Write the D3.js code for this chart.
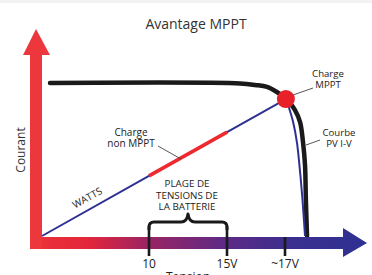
<!DOCTYPE html>
<html><head><meta charset="utf-8">
<script src="https://cdn.jsdelivr.net/npm/d3@7"></script>
<style>
html,body{margin:0;padding:0;background:#fff;}
svg{display:block;font-family:"Open Sans",sans-serif;}
</style></head>
<body>
<svg id="c" width="372" height="275"></svg>
<script>
// ---- data (volts / current units) ----
const tickValues = [10, 15, 17];
const tickLabels = ["10", "15V", "~17V"];
const batteryRange = [10, 15];
// PV I-V curve
const ivV = [0.75, 15.45, 15.97, 16.38, 16.72, 17.0, 17.17, 17.34, 17.52, 17.62, 17.69, 17.72, 17.76];
const ivI = [10.0, 9.97, 9.87, 9.74, 9.41, 9.02, 8.69, 8.24, 7.45, 6.14, 4.64, 2.35, 0];
// power ("WATTS") line up to MPP, then falling part
const pwV = [0, 10, 15, 17.03];
const pwI = [0, 3.93, 6.79, 8.95];
const fallV = [17.03, 17.14, 17.28, 17.41, 17.48, 17.59, 17.69];
const fallI = [8.95, 8.37, 7.45, 6.14, 4.97, 2.68, 0];
const mpp = [17.03, 8.95];

const svg = d3.select("#c");
const x = d3.scaleLinear().domain([0, 10, 15, 19]).range([42, 149, 227, 343]);
const y = d3.scaleLinear().domain([0, 10]).range([236, 83]);

// top band
svg.append("rect").attr("x",0).attr("y",0).attr("width",372).attr("height",3).attr("fill","#f2f2f2");

// title
svg.append("text").attr("x",196).attr("y",29).attr("text-anchor","middle")
  .attr("font-size",14).attr("fill","#333").text("Avantage MPPT");

// gradient
const defs = svg.append("defs");
const g = defs.append("linearGradient").attr("id","hg").attr("gradientUnits","userSpaceOnUse")
  .attr("x1",30).attr("x2",367).attr("y1",0).attr("y2",0);
[[0,"#ec3338"],[0.17,"#e4263b"],[0.35,"#9a2463"],[0.58,"#5d2a86"],[0.78,"#3a2f8f"],[1,"#2e3192"]]
  .forEach(s=>g.append("stop").attr("offset",s[0]).attr("stop-color",s[1]));

// curves
const line = d3.line().x(d=>x(d[0])).y(d=>y(d[1]));
const curve = d3.line().x(d=>x(d[0])).y(d=>y(d[1])).curve(d3.curveCatmullRom.alpha(0.5));

svg.append("path").datum(ivV.map((v,i)=>[v,ivI[i]])).attr("d",curve)
  .attr("fill","none").attr("stroke","#1a1a1a").attr("stroke-width",4.5).attr("stroke-linecap","round");

svg.append("path").datum(pwV.map((v,i)=>[v,pwI[i]])).attr("d",line)
  .attr("fill","none").attr("stroke","#2e3192").attr("stroke-width",2);
svg.append("path").datum(fallV.map((v,i)=>[v,fallI[i]])).attr("d",curve)
  .attr("fill","none").attr("stroke","#2e3192").attr("stroke-width",2);

// red non-MPPT segment along the power line
const seg = batteryRange.map(v=>[v, d3.scaleLinear().domain(pwV).range(pwI)(v)]);
svg.append("path").datum(seg).attr("d",line).attr("fill","none")
  .attr("stroke","#ee2a2f").attr("stroke-width",3.5);

// MPP dot
svg.append("circle").attr("cx",x(mpp[0])).attr("cy",y(mpp[1])).attr("r",9).attr("fill","#e8202a");

// horizontal arrow (axis)
const hy = 243;
svg.append("path").attr("fill","url(#hg)")
  .attr("d",`M30,${hy-6}H343V${hy-15}L367,${hy}L343,${hy+14}V${hy+6}H30Z`);
// vertical arrow
svg.append("path").attr("fill","#ec383c")
  .attr("d",`M30,249V55H23L36,29L50,55H42V249Z`);

// ticks
tickValues.forEach((v,i)=>{
  const top = (v===batteryRange[0]||v===batteryRange[1]) ? 226 : 237;
  svg.append("line").attr("x1",x(v)).attr("x2",x(v)).attr("y1",top).attr("y2",256)
    .attr("stroke","#1a1a1a").attr("stroke-width",2.6);
  svg.append("text").attr("x",x(v)).attr("y",268).attr("text-anchor","middle")
    .attr("font-size",12).attr("fill","#222").text(tickLabels[i]);
});

// brace
const bl = x(batteryRange[0]), br = x(batteryRange[1]), bm = (bl+br)/2, by = 222;
svg.append("path").attr("fill","none").attr("stroke","#1a1a1a").attr("stroke-width",3)
  .attr("stroke-linejoin","round")
  .attr("d",`M${bl},${by+8}V${by+5}Q${bl},${by} ${bl+5},${by}H${bm-7}Q${bm-1},${by} ${bm},${by-8}Q${bm+1},${by} ${bm+7},${by}H${br-5}Q${br},${by} ${br},${by+5}V${by+8}`);

// texts
const txt=(xx,yy,s,fs,anchor)=>svg.append("text").attr("x",xx).attr("y",yy)
  .attr("text-anchor",anchor||"middle").attr("font-size",fs).attr("fill","#222").text(s);
txt(187,187,"PLAGE DE",9.8);
txt(187,198.5,"TENSIONS DE",9.8);
txt(187,210,"LA BATTERIE",9.8);
txt(328,77,"Charge",9.6);
txt(328,88.3,"MPPT",9.6);
txt(339,135.5,"Courbe",9.6);
txt(339,146.8,"PV I-V",9.6);
txt(131,135.5,"Charge",10);
txt(131,147,"non MPPT",10);
txt(188,281,"Tension",12);

svg.append("text").attr("transform","translate(25,150) rotate(-90)").attr("text-anchor","middle")
  .attr("font-size",12).attr("fill","#333").text("Courant");

// WATTS along line
const ang = Math.atan2(y(pwI[1])-y(pwI[0]), x(pwV[1])-x(pwV[0]))*180/Math.PI;
svg.append("text").attr("transform",`translate(89,201) rotate(${ang})`).attr("text-anchor","middle")
  .attr("font-size",10).attr("fill","#222").text("WATTS");

// leader lines
const lead=(a,b,c,d)=>svg.append("line").attr("x1",a).attr("y1",b).attr("x2",c).attr("y2",d)
  .attr("stroke","#444").attr("stroke-width",0.9);
lead(293,95,313,88);
lead(306,145,320,140);
lead(158,146,181,159);
</script>
</body></html>
